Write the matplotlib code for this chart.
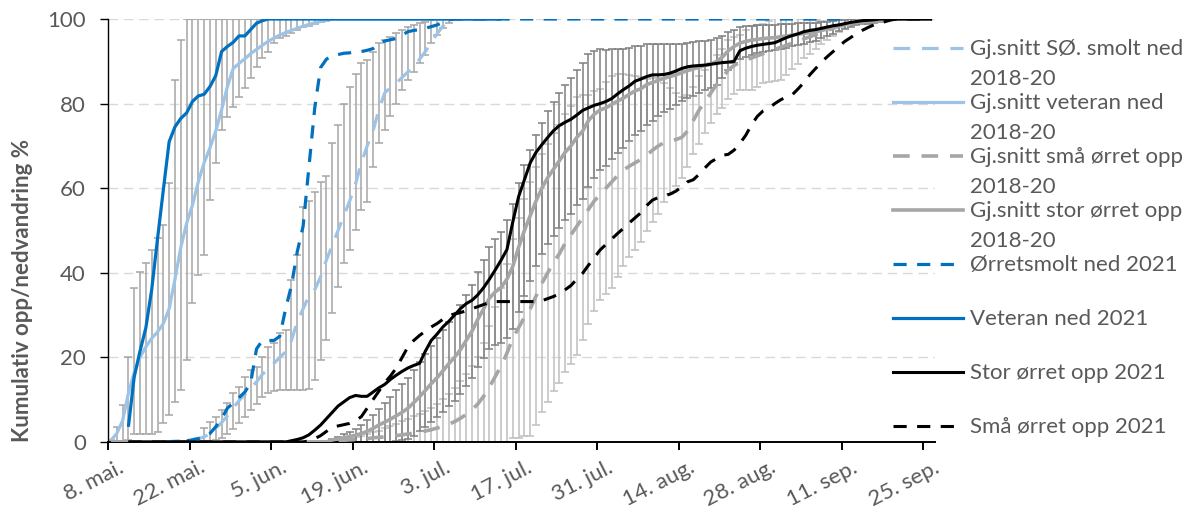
import numpy as np
import matplotlib.pyplot as plt
from matplotlib.lines import Line2D
from matplotlib.transforms import ScaledTranslation

plt.rcParams['font.family'] = ['Lato', 'DejaVu Sans']
plt.rcParams['lines.scale_dashes'] = False

# dag 0 = 8. mai, en kategori per dag (Excel-akse "mellom merkene")
tick_days = [0, 14, 28, 42, 56, 70, 84, 98, 112, 126, 140]
tick_labels = ['8. mai.', '22. mai.', '5. jun.', '19. jun.', '3. jul.', '17. jul.',
               '31. jul.', '14. aug.', '28. aug.', '11. sep.', '25. sep.']

# --- Gj.snitt veteran ned 2018-20 (dag 0-38), min/maks-stolper
vet_avg_start = 0
vet_avg = [0.4, 2, 5, 11.5, 16.5, 20, 22.5, 24.5, 26, 28, 31.5, 38.5, 46, 51.7, 56, 61.5,
           66, 69.5, 73.5, 78.5, 84, 88.3, 89.5, 90.6, 91.8, 92.8, 93.8, 94.7, 95.5, 96.2,
           96.8, 97.3, 97.8, 98.3, 98.7, 99.1, 99.4, 99.7, 100]
vet_lo = [0, 0, 0, 0.5, 2, 2, 2, 2, 2.4, 4.4, 6.4, 9.5, 12.3, 19.4, 32.8, 39.5, 44.2, 57.2,
          66, 73.8, 76.9, 79.3, 81.6, 83.6, 86, 88.7, 90.7, 92.3, 94.3, 95.4, 96, 96.8,
          97.5, 98, 98.4, 98.8, 99.2, 99.6, 100]
vet_hi = [0.5, 3.6, 8.7, 20.2, 36.4, 40.3, 42.3, 45.4, 48.2, 51.3, 61.2, 85.6, 95] + [100] * 26
vet_last = 67

# --- Gj.snitt SØ. smolt ned 2018-20 (dag 9-59), stolper dag 16-58
smolt_avg_start = 9
smolt_avg = [0, 0.1, 0.2, 0.3, 0.4, 0.6, 0.8, 1.2, 2, 3.2, 4.6, 6.2, 8, 9.8, 11.2, 12.7,
             14.2, 16, 17.2, 18.6, 20, 21.3, 24, 28.5, 31.5, 34.5, 36, 39, 43, 46.5, 50,
             53.5, 57, 61, 66, 70, 73.5, 78.5, 82.5, 83.8, 84.8, 86.2, 87.5, 88.7, 90.5,
             92.3, 94.5, 96.5, 98.3, 99.5, 100]
smolt_bar_start = 16
smolt_lo = [0, 0, 0.5, 1, 2, 3, 4.5, 6, 7.6, 9, 10.7, 11.5, 12, 12.2, 12.3, 12.3, 12.3,
            12.3, 12.5, 14.7, 19.4, 24, 30.5, 36.7, 42.3, 45.4, 50, 54.8, 56.8, 65, 70.6,
            73.8, 77, 80, 83.2, 85.6, 87.5, 89.5, 91.5, 94.3, 96.2, 97.8, 99]
smolt_hi = [3.3, 4.8, 6, 7.6, 9.2, 11.5, 13, 15.4, 17, 17.8, 20.2, 22.5, 23.4, 25.7, 26.5,
            38.3, 44.2, 55.6, 57, 59, 61.5, 63, 70.6, 75, 80, 84, 87, 89.5, 90.3, 92.3,
            94.3, 95, 95.8, 96.6, 97.4, 98.2, 98.6, 99, 99.4, 99.8, 100, 100, 100]
smolt_last = 67

# --- Gj.snitt små ørret opp 2018-20 (0 fra dag 0, verdier dag 38-130), +/- SD
small_start = 38
small_avg = [0.2, 0.3, 0.4, 0.5, 0.6, 0.7, 0.8, 1, 1.1, 1.2,
             1.4, 1.5, 1.7, 1.9, 2.1, 2.3, 2.6, 2.9, 3.3, 3.7,
             4.2, 4.8, 5.6, 6.5, 7.6, 9, 10.8, 13, 15.5, 18,
             21, 24.5, 27, 29.5, 31.5, 34.5, 37.5, 40, 42.5, 44.5,
             47, 49, 51, 53, 55, 57, 58.5, 60, 61.5, 63,
             64.3, 65.2, 66, 66.8, 67.8, 69, 70, 70.8, 71.2, 71.5,
             72, 73.5, 76, 78.5, 80.5, 82.5, 84.5, 86, 88, 89,
             89.8, 90.3, 90.8, 91.3, 91.8, 92.3, 92.8, 93.3, 93.8, 94.3,
             94.8, 95.3, 95.8, 96.3, 96.8, 97.3, 97.8, 98.3, 98.8, 99.2,
             99.6, 100, 100]
small_sd = [0.2, 0.3, 0.4, 0.5, 0.6, 0.8, 1, 1.3, 1.6, 2,
            2.4, 2.8, 3.2, 3.6, 4, 4.4, 4.8, 5.2, 5.8, 6.5,
            7.2, 8, 8.8, 9.6, 10.4, 11.2, 12.5, 14.5, 16.5, 18.5,
            21, 23.5, 26, 28, 30, 30.5, 30.5, 30.5, 30.5, 30.5,
            30.5, 30.5, 30.5, 29, 27, 26, 25, 25, 25, 24,
            22.8, 21.5, 20.5, 19.5, 18, 17, 16, 14, 12.5, 11,
            9.5, 8.5, 8, 8, 7.5, 7, 7, 7, 7, 6.8,
            6.5, 7, 7.5, 7.3, 7, 7.2, 7.5, 7.7, 7, 6.2,
            5.4, 4.6, 4, 3.4, 2.8, 2.3, 1.8, 1.4, 1, 0.7,
            0.4, 0, 0]

# --- Gj.snitt stor ørret opp 2018-20 (0 fra dag 0, verdier dag 38-135), +/- SD
large_start = 38
large_avg = [0.5, 0.7, 1, 1.3, 1.6, 2, 2.5, 3.2, 4, 4.7,
             5.4, 6.2, 7, 8, 9.3, 10.7, 12.2, 13.8, 15.2, 16.8,
             18.5, 20, 21.8, 24, 26.2, 29, 31.5, 34, 35.5, 36.5,
             38.5, 41.5, 46, 50, 53.5, 57, 60, 62.5, 64.5, 66.5,
             68.5, 70, 72, 73.5, 76, 77.5, 78.5, 79, 79.8, 80.6,
             81.3, 82.2, 83, 83.5, 84.5, 85, 85.5, 86, 86.4, 86.8,
             87.3, 87.8, 88.2, 88.6, 89, 89.3, 90, 91, 92.5, 93.5,
             94.3, 94.7, 95, 95.2, 95.4, 95.5, 95.6, 95.8, 96, 96.2,
             96.4, 96.6, 96.8, 97, 97.3, 97.6, 98, 98.4, 98.7, 99,
             99.2, 99.3, 99.4, 99.5, 99.6, 99.7, 99.9, 100]
large_sd = [0.3, 0.5, 0.8, 1.1, 1.5, 2, 2.6, 3.2, 3.9, 4.6,
            5.3, 6, 6.6, 7.2, 7.8, 8.2, 8.6, 9, 9.3, 9.6,
            9.9, 10.2, 10.5, 10.8, 11, 11.3, 11.6, 12, 12.5, 13.2,
            14, 14.8, 15.3, 15.5, 15.5, 15.5, 15.5, 15.7, 15.9, 16,
            16, 16, 16, 16, 15.8, 15, 14.3, 13.7, 13, 12.3,
            11.7, 11, 10.5, 10, 9.5, 9, 8.5, 8, 7.6, 7.2,
            6.8, 6.5, 6.3, 6.1, 5.9, 5.7, 5.5, 5, 4.5, 4,
            3.8, 3.6, 3.4, 3.3, 3.2, 3.1, 3, 2.9, 2.8, 2.7,
            2.6, 2.5, 2.3, 2.1, 1.9, 1.7, 1.5, 1.3, 1.1, 0.9,
            0.7, 0.6, 0.5, 0.4, 0.3, 0.2, 0.1, 0]
trout_last = 141

# --- 2021
smolt21_start = 9
smolt21 = [0, 0, 0.1, 0.2, 0.3, 0.5, 0.8, 1.2, 2, 3.6, 5.5, 8, 9.2, 10.5, 11.8, 14, 22, 24,
           24, 24, 25, 31.5, 37, 45, 51, 65, 79, 88.5, 90.5, 91.3, 91.6, 91.9, 92, 92.2,
           92.3, 92.6, 93, 94, 94.8, 95.1, 95.4, 96.2, 97, 97.3, 97.5, 97.8, 98.2, 98.6,
           99.2, 99.8, 100]
smolt21_last = 127

vet21_start = 3
vet21 = [3.6, 15.4, 21.5, 27, 36, 48, 59.6, 71, 74.5, 76.5, 77.8, 80.5, 81.8, 82.2, 84,
         86.6, 92.3, 93.5, 94.5, 96, 96, 97.5, 99, 99.6, 100]
vet21_last = 67

stor21_first = 3
stor21_start = 31
stor21 = [0.3, 0.6, 1, 1.7, 2.8, 4, 5.5, 7, 8.5, 9.5,
          10.5, 11, 10.8, 10.8, 11.8, 12.8, 13.6, 14.8, 15.8, 16.7,
          17.5, 18.1, 18.6, 21.5, 24, 25.5, 27.2, 28.5, 30, 31.5,
          32.7, 33.5, 34.8, 36.5, 38.5, 40.7, 43, 45.5, 52, 58,
          62, 66, 68.5, 70.3, 72, 73.6, 74.8, 75.6, 76.3, 77.3,
          78.4, 79, 79.6, 80, 80.5, 81.2, 82.3, 83.3, 84.2, 85.3,
          85.8, 86.4, 86.8, 86.8, 86.9, 87.2, 87.7, 88.3, 88.7, 88.9,
          89, 89.1, 89.3, 89.5, 89.7, 89.8, 90, 92.5, 93.1, 93.5,
          93.8, 94, 94.2, 94.4, 95, 95.6, 96.1, 96.5, 97, 97.3,
          97.5, 97.8, 98.1, 98.4, 98.6, 98.9, 99.2, 99.4, 99.6, 99.7,
          99.8, 100]

sma21_first = 3
sma21_start = 34
sma21 = [0.3, 0.8, 1.5, 2.5, 3.5, 3.8, 4.1, 4.4, 5, 6,
         8, 10, 12, 14, 15.6, 17.5, 20, 22.5, 24, 25.2,
         26.2, 27.2, 28, 29, 29.8, 30.3, 30.6, 31, 31.5, 32,
         32.5, 33, 33.2, 33.2, 33.2, 33.2, 33.2, 33.2, 33.2, 33.2,
         33.4, 33.9, 34.4, 35.1, 36, 37, 38.5, 39.9, 41.8, 43.6,
         45.4, 46.7, 48, 49.3, 50.5, 51.8, 53, 54.2, 55.9, 57.2,
         57.8, 58.2, 58.6, 59.3, 60.3, 61.5, 62, 63.3, 64.8, 66.2,
         67, 67.8, 68, 69, 70.6, 72.5, 75, 77, 78.3, 79,
         80, 80.9, 81.6, 82.1, 83.5, 85, 86.8, 88.3, 89.8, 91.1,
         92.3, 93.5, 94.7, 95.6, 96.5, 97.3, 98, 98.6, 99, 99.4, 99.8,
         100]

TXT = '#595959'
LIGHT_BLUE = '#9DC3E6'
BLUE = '#0070C0'
GRAY = '#A6A6A6'
LONG_DASH = (0, (12, 8.5))
SHORT_DASH = (0, (9.5, 7.5))


def build(start, vals, last, first=None):
    x = np.arange(start, start + len(vals), dtype=float)
    y = np.array(vals, dtype=float)
    if first is not None and first < start:
        x = np.r_[first, start - 1, x]
        y = np.r_[0, 0, y]
    if last > x[-1]:
        x = np.r_[x, last]
        y = np.r_[y, y[-1]]
    return x, y


fig = plt.figure(figsize=(11.91, 5.13), dpi=100)
ax = fig.add_axes([108 / 1191, 1 - 442 / 513, (935 - 108) / 1191, (442 - 19) / 513])

# feilstolper
bar_kw = dict(fmt='none', elinewidth=1.1, capsize=3.2, capthick=1.1, zorder=2)

d = np.arange(vet_avg_start, vet_avg_start + len(vet_avg))
m = np.array(vet_avg)
ax.errorbar(d, m, yerr=[m - np.array(vet_lo), np.array(vet_hi) - m], ecolor=GRAY, **bar_kw)

d = np.arange(smolt_bar_start, smolt_bar_start + len(smolt_lo))
m = np.array(smolt_avg)[smolt_bar_start - smolt_avg_start:][:len(d)]
ax.errorbar(d, m, yerr=[m - np.array(smolt_lo), np.array(smolt_hi) - m], ecolor=GRAY, **bar_kw)

d = np.arange(small_start, small_start + len(small_avg))
s = np.array(small_sd)
ok = s > 0
ax.errorbar(d[ok], np.array(small_avg)[ok], yerr=s[ok], ecolor='#BFBFBF', **bar_kw)

d = np.arange(large_start, large_start + len(large_avg))
s = np.array(large_sd)
ok = s > 0
ax.errorbar(d[ok], np.array(large_avg)[ok], yerr=s[ok], ecolor='#7F7F7F', **bar_kw)

# linjer
series = [
    (build(smolt_avg_start, smolt_avg, smolt_last), LIGHT_BLUE, LONG_DASH, 2.3),
    (build(vet_avg_start, vet_avg, vet_last), LIGHT_BLUE, '-', 2.3),
    (build(small_start, small_avg, trout_last, first=0), GRAY, LONG_DASH, 2.6),
    (build(large_start, large_avg, trout_last, first=0), GRAY, '-', 2.6),
    (build(smolt21_start, smolt21, smolt21_last), BLUE, SHORT_DASH, 2.3),
    (build(vet21_start, vet21, vet21_last), BLUE, '-', 2.3),
    (build(stor21_start, stor21, trout_last, first=stor21_first), 'black', '-', 2.2),
    (build(sma21_start, sma21, trout_last, first=sma21_first), 'black', SHORT_DASH, 2.2),
]
for (x, y), c, ls, lw in series:
    ax.plot(x, y, color=c, linestyle=ls, linewidth=lw, zorder=3, solid_capstyle='butt')

ax.set_xlim(-0.5, 141.5)
ax.set_ylim(0, 100)
ax.set_yticks(range(0, 101, 20))
ax.set_xticks(np.array(tick_days) - 0.5)
ax.set_xticklabels(tick_labels, rotation=27, ha='right', rotation_mode='anchor')
ax.yaxis.grid(True, color='#D9D9D9', linestyle=(0, (7, 4)), linewidth=1)
ax.set_axisbelow(True)
for sp in ['top', 'right']:
    ax.spines[sp].set_visible(False)
ax.spines['left'].set_linewidth(1)
ax.spines['bottom'].set_linewidth(1.4)
ax.tick_params(axis='y', length=6, width=1, pad=10, labelsize=16, labelcolor=TXT)
ax.tick_params(axis='x', length=6, width=1.4, pad=5, labelsize=16, labelcolor=TXT)
for lab in ax.get_xticklabels():
    lab.set_transform(lab.get_transform() + ScaledTranslation(0.10, 0, fig.dpi_scale_trans))

fig.text(23 / 1191, 1 - 290 / 513, 'Kumulativ opp/nedvandring %', rotation=90,
         ha='center', va='center', fontsize=16, fontweight='bold', color=TXT)

# forklaring
legend_rows = [
    ('Gj.snitt SØ. smolt ned', '2018-20', LIGHT_BLUE, LONG_DASH, 2.3),
    ('Gj.snitt veteran ned', '2018-20', LIGHT_BLUE, '-', 2.3),
    ('Gj.snitt små ørret opp', '2018-20', GRAY, LONG_DASH, 2.6),
    ('Gj.snitt stor ørret opp', '2018-20', GRAY, '-', 2.6),
    ('Ørretsmolt ned 2021', None, BLUE, SHORT_DASH, 2.3),
    ('Veteran ned 2021', None, BLUE, '-', 2.3),
    ('Stor ørret opp 2021', None, 'black', '-', 2.2),
    ('Små ørret opp 2021', None, 'black', SHORT_DASH, 2.2),
]
for i, (l1, l2, c, ls, lw) in enumerate(legend_rows):
    yy = 48 + 54 * i
    fig.add_artist(Line2D([893 / 1191, 963 / 1191], [1 - yy / 513] * 2, color=c,
                          linestyle=ls, linewidth=lw, transform=fig.transFigure))
    fig.text(970 / 1191, 1 - (yy + 7) / 513, l1, ha='left', va='baseline',
             fontsize=16, color=TXT)
    if l2:
        fig.text(970 / 1191, 1 - (yy + 37) / 513, l2, ha='left', va='baseline',
                 fontsize=16, color=TXT)

fig.savefig('out.png', dpi=100)
